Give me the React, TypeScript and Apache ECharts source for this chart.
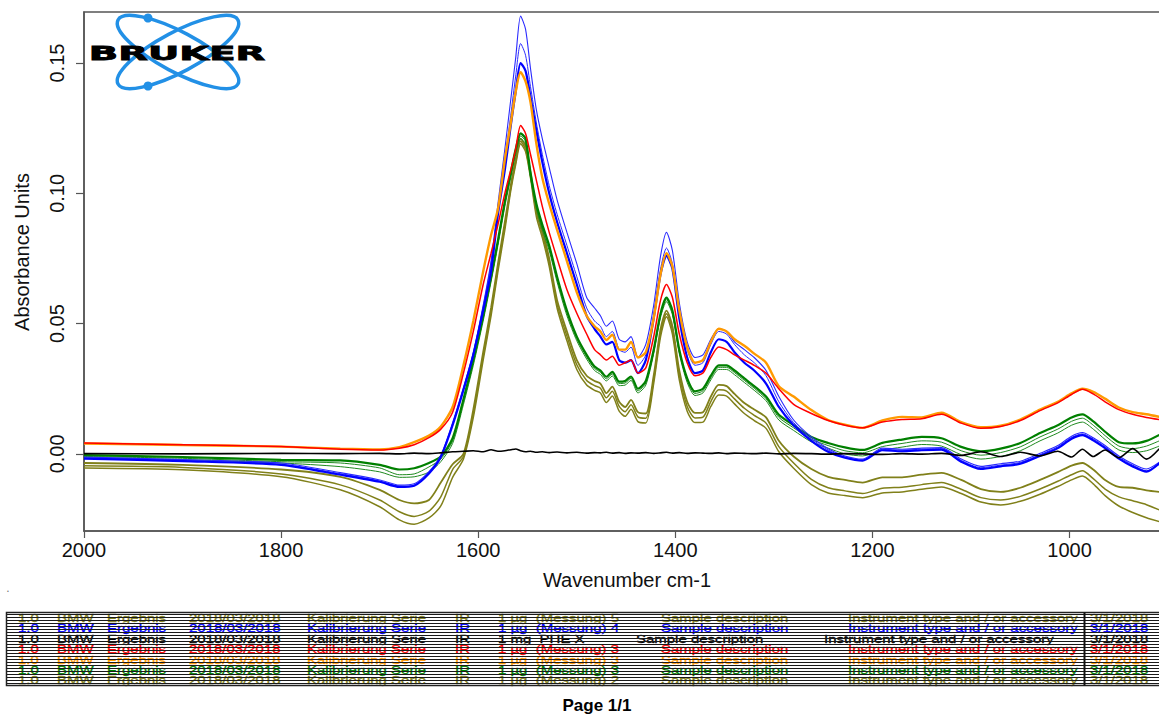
import React, { useEffect, useRef } from "react";
import * as echarts from "echarts";

// Wavenumbers (cm-1) at which the spectra are sampled
const WAVENUMBERS = [
  2000, 1900, 1800, 1740, 1700, 1680, 1665, 1650, 1638, 1626,
  1615, 1605, 1595, 1587, 1580, 1573, 1567, 1562, 1557, 1552,
  1547, 1541, 1535, 1528, 1520, 1510, 1500, 1490, 1482, 1476,
  1470, 1464, 1457, 1451, 1445, 1438, 1430, 1422, 1415, 1409,
  1403, 1396, 1388, 1380, 1372, 1364, 1356, 1348, 1340, 1330,
  1320, 1308, 1295, 1280, 1262, 1245, 1228, 1210, 1190, 1170,
  1150, 1130, 1110, 1090, 1070, 1050, 1030, 1012, 998, 987,
  976, 964, 950, 936, 922, 909,
];

const BLUE_1 = [
  -0.0012, -0.0022, -0.0035, -0.0072, -0.01, -0.012, -0.0115, -0.0068, -0.0005, 0.012,
  0.0255, 0.039, 0.057, 0.074, 0.096, 0.117, 0.136, 0.152, 0.168, 0.163,
  0.148, 0.132, 0.121, 0.11, 0.0975, 0.085, 0.073, 0.06, 0.056, 0.053,
  0.049, 0.051, 0.044, 0.043, 0.045, 0.037, 0.042, 0.057, 0.076, 0.085,
  0.078, 0.058, 0.043, 0.037, 0.038, 0.044, 0.048, 0.047, 0.043, 0.04,
  0.037, 0.032, 0.022, 0.013, 0.0065, 0.002, -0.0008, -0.002, 0.0022, 0.0018,
  0.0022, 0.0024, -0.002, -0.0048, -0.0038, -0.0028, 0.0002, 0.0032, 0.0068, 0.0082,
  0.0062, 0.0032, -0.0008, -0.0038, -0.0058, -0.0032,
];

const BLUE_2 = [
  -0.0016, -0.0026, -0.004, -0.0076, -0.0104, -0.0124, -0.012, -0.0072, -0.0008, 0.0115,
  0.025, 0.0385, 0.0565, 0.073, 0.0945, 0.113, 0.13, 0.145, 0.1575, 0.153,
  0.141, 0.127, 0.115, 0.103, 0.092, 0.08, 0.068, 0.056, 0.051, 0.049,
  0.045, 0.047, 0.04, 0.039, 0.041, 0.034, 0.038, 0.053, 0.071, 0.079,
  0.073, 0.054, 0.04, 0.034, 0.035, 0.042, 0.047, 0.046, 0.042, 0.038,
  0.035, 0.03, 0.02, 0.012, 0.0058, 0.0015, -0.0012, -0.0024, 0.0018, 0.0014,
  0.0018, 0.002, -0.0025, -0.0053, -0.0043, -0.0033, -0.0003, 0.0027, 0.0063, 0.0077,
  0.0057, 0.0027, -0.0013, -0.0043, -0.0065, -0.004,
];

const BLUE_3 = [
  -0.0018, -0.0028, -0.0042, -0.008, -0.0107, -0.0127, -0.0122, -0.0075, -0.0012, 0.011,
  0.0245, 0.038, 0.055, 0.07, 0.092, 0.109, 0.126, 0.139, 0.15, 0.147,
  0.137, 0.124, 0.112, 0.1, 0.089, 0.077, 0.065, 0.053, 0.048, 0.045,
  0.042, 0.043, 0.036, 0.035, 0.036, 0.031, 0.036, 0.052, 0.069, 0.076,
  0.071, 0.052, 0.037, 0.031, 0.032, 0.039, 0.044, 0.043, 0.039, 0.035,
  0.032, 0.027, 0.018, 0.011, 0.005, 0.0008, -0.0015, -0.0026, 0.0014, 0.001,
  0.0014, 0.0016, -0.003, -0.0058, -0.0048, -0.0038, -0.0008, 0.0022, 0.0058, 0.0072,
  0.0052, 0.0022, -0.0018, -0.0048, -0.0068, -0.0036,
];

const ORANGE_1 = [
  0.004, 0.0034, 0.0028, 0.002, 0.0017, 0.0026, 0.0045, 0.007, 0.0105, 0.018,
  0.034, 0.051, 0.07, 0.084, 0.094, 0.113, 0.127, 0.139, 0.1465, 0.143,
  0.135, 0.119, 0.106, 0.096, 0.086, 0.074, 0.062, 0.053, 0.049, 0.047,
  0.0437, 0.0457, 0.04, 0.04, 0.043, 0.037, 0.039, 0.052, 0.069, 0.077,
  0.072, 0.055, 0.041, 0.035, 0.036, 0.043, 0.048, 0.047, 0.044, 0.0415,
  0.0385, 0.035, 0.026, 0.022, 0.0168, 0.013, 0.0112, 0.01, 0.0128, 0.0142,
  0.014, 0.0158, 0.0122, 0.0102, 0.0108, 0.0132, 0.017, 0.02, 0.0232, 0.025,
  0.0238, 0.0212, 0.0178, 0.016, 0.0152, 0.0142,
];

const RED_1 = [
  0.0042, 0.0035, 0.0028, 0.0018, 0.0015, 0.0022, 0.0035, 0.0062, 0.0095, 0.016,
  0.031, 0.047, 0.065, 0.077, 0.088, 0.1, 0.109, 0.117, 0.126, 0.123,
  0.115, 0.105, 0.095, 0.085, 0.075, 0.063, 0.054, 0.046, 0.04, 0.038,
  0.036, 0.0375, 0.034, 0.035, 0.036, 0.031, 0.033, 0.045, 0.059, 0.065,
  0.06, 0.046, 0.035, 0.03, 0.031, 0.037, 0.041, 0.04, 0.038, 0.036,
  0.034, 0.031, 0.025, 0.019, 0.0155, 0.0128, 0.011, 0.01, 0.0122, 0.0132,
  0.0135, 0.0152, 0.0118, 0.0098, 0.0105, 0.0128, 0.0166, 0.0196, 0.0228, 0.0248,
  0.023, 0.02, 0.017, 0.0152, 0.014, 0.0132,
];

const GREEN_1 = [
  -0.0005, -0.0012, -0.0023, -0.0025, -0.0042, -0.006, -0.0055, -0.0035, -0.001, 0.006,
  0.021, 0.036, 0.053, 0.068, 0.082, 0.097, 0.108, 0.117, 0.123, 0.121,
  0.108, 0.096, 0.088, 0.08, 0.068, 0.055, 0.045, 0.038, 0.0335, 0.032,
  0.0296, 0.0315, 0.0277, 0.028, 0.0297, 0.025, 0.028, 0.04, 0.054, 0.06,
  0.055, 0.04, 0.029, 0.024, 0.025, 0.03, 0.034, 0.034, 0.032, 0.029,
  0.026, 0.022, 0.015, 0.011, 0.0065, 0.0042, 0.0025, 0.0015, 0.0042, 0.0055,
  0.0065, 0.006, 0.0027, 0.001, 0.002, 0.0042, 0.008, 0.011, 0.014, 0.0152,
  0.0125, 0.0085, 0.0045, 0.004, 0.005, 0.0073,
];

const GREEN_2 = [
  -0.001, -0.0017, -0.003, -0.0035, -0.0054, -0.008, -0.0077, -0.005, -0.002, 0.005,
  0.02, 0.035, 0.052, 0.067, 0.081, 0.096, 0.107, 0.116, 0.122, 0.12,
  0.107, 0.095, 0.087, 0.079, 0.067, 0.054, 0.0442, 0.0372, 0.0328, 0.0313,
  0.0288, 0.0307, 0.027, 0.0272, 0.029, 0.0242, 0.0272, 0.0392, 0.0532, 0.0592,
  0.0542, 0.0392, 0.0282, 0.0232, 0.0242, 0.0292, 0.0332, 0.0332, 0.0312, 0.0282,
  0.0252, 0.0212, 0.014, 0.01, 0.0056, 0.0032, 0.0012, 0.0004, 0.0028, 0.004,
  0.005, 0.0045, 0.0012, -0.0005, 0.0005, 0.0027, 0.0065, 0.0095, 0.0125, 0.0137,
  0.011, 0.007, 0.003, 0.002, 0.003, 0.005,
];

const GREEN_3 = [
  -0.0015, -0.0022, -0.0035, -0.0049, -0.0069, -0.009, -0.0088, -0.007, -0.003, 0.004,
  0.019, 0.034, 0.051, 0.066, 0.08, 0.095, 0.106, 0.115, 0.121, 0.119,
  0.106, 0.094, 0.086, 0.078, 0.066, 0.053, 0.0434, 0.0364, 0.032, 0.0305,
  0.028, 0.0299, 0.0262, 0.0264, 0.0282, 0.0234, 0.0264, 0.0384, 0.0524, 0.0584,
  0.0534, 0.0384, 0.0274, 0.0224, 0.0234, 0.0284, 0.0324, 0.0324, 0.0304, 0.0274,
  0.0244, 0.0204, 0.013, 0.009, 0.0046, 0.0022, 0.0, -0.0008, 0.0014, 0.0026,
  0.0036, 0.003, -0.0003, -0.002, -0.001, 0.0012, 0.005, 0.008, 0.011, 0.0122,
  0.0095, 0.0055, 0.0015, 0.0005, 0.0012, 0.003,
];

const OLIVE_1 = [
  -0.0035, -0.0042, -0.006, -0.0088, -0.0138, -0.0177, -0.019, -0.0177, -0.011, -0.004,
  0.0, 0.017, 0.039, 0.056, 0.073, 0.089, 0.103, 0.113, 0.121, 0.118,
  0.108, 0.094, 0.086, 0.075, 0.059, 0.047, 0.036, 0.03, 0.028, 0.027,
  0.0233, 0.0258, 0.02, 0.018, 0.0207, 0.016, 0.0155, 0.03, 0.048, 0.055,
  0.049, 0.032, 0.02, 0.0157, 0.016, 0.022, 0.0265, 0.026, 0.023, 0.0195,
  0.017, 0.014, 0.005, -0.001, -0.0058, -0.0088, -0.01, -0.011, -0.009, -0.009,
  -0.008, -0.0073, -0.01, -0.0135, -0.0146, -0.013, -0.01, -0.007, -0.0045, -0.0035,
  -0.006, -0.01, -0.0127, -0.013, -0.014, -0.0146,
];

const OLIVE_2 = [
  -0.0046, -0.0052, -0.0077, -0.0119, -0.0177, -0.0222, -0.024, -0.022, -0.0165, -0.006,
  -0.001, 0.0155, 0.0375, 0.0545, 0.0715, 0.0875, 0.102, 0.112, 0.12, 0.117,
  0.107, 0.0925, 0.0845, 0.0735, 0.0575, 0.0452, 0.0342, 0.0282, 0.0262, 0.0252,
  0.0215, 0.024, 0.0182, 0.0162, 0.0189, 0.0142, 0.0137, 0.0285, 0.0465, 0.0538,
  0.0475, 0.0302, 0.0182, 0.0138, 0.0141, 0.0201, 0.0246, 0.0241, 0.0211, 0.0175,
  0.0148, 0.0118, 0.0028, -0.0035, -0.0098, -0.013, -0.0142, -0.0152, -0.0132, -0.0128,
  -0.0118, -0.011, -0.0136, -0.0168, -0.0177, -0.0163, -0.0135, -0.0105, -0.008, -0.0065,
  -0.0095, -0.0135, -0.0165, -0.018, -0.0195, -0.0215,
];

const OLIVE_3 = [
  -0.0054, -0.0061, -0.0088, -0.0138, -0.0203, -0.0253, -0.027, -0.0246, -0.02, -0.009,
  -0.002, 0.014, 0.036, 0.053, 0.07, 0.086, 0.101, 0.111, 0.119, 0.116,
  0.106, 0.091, 0.083, 0.072, 0.056, 0.0434, 0.0324, 0.0264, 0.0244, 0.0234,
  0.0197, 0.0222, 0.0164, 0.0144, 0.0171, 0.0124, 0.0119, 0.027, 0.045, 0.0526,
  0.046, 0.0284, 0.0164, 0.012, 0.0122, 0.0182, 0.0226, 0.0222, 0.0192, 0.0155,
  0.0128, 0.0098, 0.0008, -0.0055, -0.0118, -0.015, -0.016, -0.0168, -0.015, -0.0146,
  -0.0136, -0.0127, -0.0152, -0.0185, -0.0196, -0.0182, -0.0155, -0.0125, -0.01, -0.0085,
  -0.0115, -0.016, -0.02, -0.0225, -0.0245, -0.026,
];

const BLACK_1 = [
  0.0001, 0.0, 0.0002, 0.0001, 0.0002, 0.0, 0.0003, 0.0001, 0.0004, 0.0008,
  0.001, 0.0012, 0.0008, 0.0016, 0.001, 0.0012, 0.0016, 0.0019, 0.0012, 0.0008,
  0.001, 0.0006, 0.0008, 0.0005, 0.0007, 0.0004, 0.0006, 0.0003, 0.0005, 0.0004,
  0.0006, 0.0003, 0.0005, 0.0002, 0.0004, 0.0003, 0.0005, 0.0002, 0.0004, 0.0006,
  0.0003, 0.0005, 0.0002, 0.0004, 0.0003, 0.0002, 0.0004, 0.0001, 0.0003, 0.0002,
  0.0001, 0.0003, 0.0, 0.0002, 0.0001, -0.0001, 0.0001, 0.0, -0.0002, 0.0001,
  -0.0001, 0.0002, -0.0006, 0.0008, -0.001, 0.0006, -0.0008, 0.001, -0.0012, 0.0018,
  -0.001, 0.0015, -0.0015, 0.002, -0.002, 0.002,
];

const Y_TICKS = [0, 0.05, 0.1, 0.15];
const X_TICKS = [1000, 1200, 1400, 1600, 1800, 2000];
const X_MIN = 800;
const X_MAX = 2000;
const X_STEP = 200;
const Y_MIN = -0.0296;
const Y_MAX = 0.1696;

const TITLE_X = "Wavenumber cm-1";
const TITLE_Y = "Absorbance Units";
const PAGE_TEXT = "Page 1/1";
const LOGO_TEXT = "BRUKER";

// Sample table below the plot (text content per row)
const TABLE_ROWS = [
  ["1.0", "BMW", "Ergebnis", "2018/03/2018", "Kalibrierung Serie", "IR", "1 µg  (Messung) 5", "Sample description", "Instrument type and / or accessory", "3/1/2018"],
  ["1.0", "BMW", "Ergebnis", "2018/03/2018", "Kalibrierung Serie", "IR", "1 µg  (Messung) 4", "Sample description", "Instrument type and / or accessory", "3/1/2018"],
  ["1.0", "BMW", "Ergebnis", "2018/03/2018", "Kalibrierung Serie", "IR", "1 mg  PHE X", "Sample description", "Instrument type and / or accessory", "3/1/2018"],
  ["1.0", "BMW", "Ergebnis", "2018/03/2018", "Kalibrierung Serie", "IR", "1 µg  (Messung) 3", "Sample description", "Instrument type and / or accessory", "3/1/2018"],
  ["1.0", "BMW", "Ergebnis", "2018/03/2018", "Kalibrierung Serie", "IR", "1 µg  (Messung) 3", "Sample description", "Instrument type and / or accessory", "3/1/2018"],
  ["1.0", "BMW", "Ergebnis", "2018/03/2018", "Kalibrierung Serie", "IR", "1 µg  (Messung) 3", "Sample description", "Instrument type and / or accessory", "3/1/2018"],
  ["1.0", "BMW", "Ergebnis", "2018/03/2018", "Kalibrierung Serie", "IR", "1 µg  (Messung) 2", "Sample description", "Instrument type and / or accessory", "3/1/2018"],
];

const SERIES_NAMES = [
  "Olive 3", "Olive 2", "Olive 1", "Green 3", "Green 2", "Green 1",
  "Blue 2", "Blue 1", "Blue 3", "Orange", "Red", "Black",
];
const SERIES_DATA = [
  OLIVE_3, OLIVE_2, OLIVE_1, GREEN_3, GREEN_2, GREEN_1,
  BLUE_2, BLUE_1, BLUE_3, ORANGE_1, RED_1, BLACK_1,
];

// ---------- styles / layout ----------
const SERIES_STYLE = [
  { color: "#80801a", width: 1.5 },
  { color: "#80801a", width: 1.5 },
  { color: "#80801a", width: 1.8 },
  { color: "#1f8a1f", width: 1 },
  { color: "#1f8a1f", width: 1 },
  { color: "#008000", width: 2.2 },
  { color: "#2a2aff", width: 1 },
  { color: "#2a2aff", width: 1.1 },
  { color: "#0000ff", width: 2.2 },
  { color: "#ff9a00", width: 2.4 },
  { color: "#ff0000", width: 1.5 },
  { color: "#000000", width: 1.6 },
];

const TABLE_ROW_COLORS = ["#80801a", "#0000ff", "#000000", "#ff0000", "#ff9a00", "#008000", "#80801a"];
const TABLE_ROW_Y = [618, 628.5, 639, 649.5, 660, 670.5, 680.5];
const TABLE_COL_X = [18, 57, 107, 189, 307, 455, 498, 661, 848, 1090];
const TABLE_COL_X_ALT = [18, 57, 107, 189, 307, 455, 498, 636, 824, 1090];

const FONT = '"Liberation Sans", Arial, sans-serif';
const LOGO_BLUE = "#2290e6";

function buildGraphics() {
  const els: any[] = [];
  // Table texts (under the ruling lines)
  TABLE_ROWS.forEach((row, r) => {
    const xs = r === 2 ? TABLE_COL_X_ALT : TABLE_COL_X;
    row.forEach((txt, c) => {
      els.push({
        type: "text",
        silent: true,
        x: xs[c],
        y: TABLE_ROW_Y[r],
        scaleY: 0.72,
        style: {
          text: txt,
          font: `15px ${FONT}`,
          fill: TABLE_ROW_COLORS[r],
          stroke: TABLE_ROW_COLORS[r],
          lineWidth: 0.4,
          align: "left",
          verticalAlign: "middle",
          lineHeight: 14,
        },
        z: 1,
      });
    });
  });
  // Table ruling lines
  for (let y = 614.5; y <= 684.5; y += 3) {
    els.push({
      type: "line",
      silent: true,
      shape: { x1: 6, y1: y, x2: 1170, y2: y },
      style: { stroke: "#1a1a1a", lineWidth: 1 },
      z: 2,
    });
  }
  els.push({
    type: "rect",
    silent: true,
    shape: { x: 6.5, y: 612.5, width: 1170, height: 73 },
    style: { fill: "none", stroke: "#222", lineWidth: 1.5 },
    z: 3,
  });
  els.push({
    type: "line",
    silent: true,
    shape: { x1: 1084.5, y1: 612.5, x2: 1084.5, y2: 685.5 },
    style: { stroke: "#111", lineWidth: 2 },
    z: 3,
  });

  // Bruker logo
  els.push({
    type: "ellipse",
    silent: true,
    x: 178,
    y: 52,
    rotation: -0.49,
    shape: { cx: 0, cy: 0, rx: 68, ry: 20 },
    style: { fill: "none", stroke: LOGO_BLUE, lineWidth: 3.5 },
    z: 5,
  });
  els.push({
    type: "ellipse",
    silent: true,
    x: 178,
    y: 52,
    rotation: 0.49,
    shape: { cx: 0, cy: 0, rx: 68, ry: 20 },
    style: { fill: "none", stroke: LOGO_BLUE, lineWidth: 3.5 },
    z: 5,
  });
  els.push({ type: "circle", silent: true, shape: { cx: 148, cy: 18, r: 4.5 }, style: { fill: LOGO_BLUE }, z: 5 });
  els.push({ type: "circle", silent: true, shape: { cx: 148, cy: 86, r: 4.5 }, style: { fill: LOGO_BLUE }, z: 5 });
  els.push({
    type: "text",
    silent: true,
    x: 177,
    y: 53,
    scaleX: 1.93,
    style: {
      text: LOGO_TEXT,
      font: 'bold 20px "DejaVu Sans", sans-serif',
      fill: "#000",
      stroke: "#000",
      lineWidth: 0.8,
      align: "center",
      verticalAlign: "middle",
    },
    z: 7,
  });

  // Axis titles and page footer
  els.push({
    type: "text",
    silent: true,
    x: 22,
    y: 252,
    rotation: Math.PI / 2,
    style: { text: TITLE_Y, font: `20px ${FONT}`, fill: "#111", align: "center", verticalAlign: "middle" },
  });
  els.push({
    type: "text",
    silent: true,
    x: 627,
    y: 580,
    style: { text: TITLE_X, font: `20px ${FONT}`, fill: "#111", align: "center", verticalAlign: "middle" },
  });
  els.push({
    type: "text",
    silent: true,
    x: 597,
    y: 705,
    style: { text: PAGE_TEXT, font: `bold 17px ${FONT}`, fill: "#000", align: "center", verticalAlign: "middle" },
  });
  els.push({
    type: "text",
    silent: true,
    x: 8,
    y: 588,
    style: { text: ".", font: `12px ${FONT}`, fill: "#777", align: "center", verticalAlign: "middle" },
  });
  return els;
}

function buildOption(): any {
  const series = SERIES_DATA.map((arr, i) => ({
    name: SERIES_NAMES[i],
    type: "line",
    data: WAVENUMBERS.map((w, j) => [w, arr[j]]),
    showSymbol: false,
    smooth: 0.25,
    clip: true,
    lineStyle: { color: SERIES_STYLE[i].color, width: SERIES_STYLE[i].width },
    itemStyle: { color: SERIES_STYLE[i].color },
    z: 2 + i * 0.01,
  }));
  return {
    animation: false,
    backgroundColor: "#ffffff",
    textStyle: { fontFamily: FONT },
    grid: {
      left: 84,
      top: 12,
      width: (X_MAX - X_MIN) * 0.9856,
      height: 519,
      show: true,
      borderColor: "#555",
      borderWidth: 1.5,
      backgroundColor: "transparent",
      containLabel: false,
      outerBoundsMode: "none",
    },
    xAxis: {
      type: "value",
      min: X_MIN,
      max: X_MAX,
      interval: X_STEP,
      inverse: true,
      axisLine: { show: true, onZero: false, lineStyle: { color: "#555", width: 1.5 } },
      axisTick: { show: true, length: 7, customValues: X_TICKS, lineStyle: { color: "#555", width: 1.2 } },
      axisLabel: {
        customValues: X_TICKS,
        fontSize: 20,
        color: "#111",
        margin: 9,
        fontFamily: FONT,
        formatter: (v: number) => String(v),
      },
      splitLine: { show: false },
    },
    yAxis: {
      type: "value",
      min: Y_MIN,
      max: Y_MAX,
      axisLine: { show: true, lineStyle: { color: "#555", width: 1.5 } },
      axisTick: { show: true, length: 8, customValues: Y_TICKS, lineStyle: { color: "#555", width: 1.2 } },
      axisLabel: {
        customValues: Y_TICKS,
        rotate: 90,
        fontSize: 20,
        color: "#111",
        margin: 17,
        fontFamily: FONT,
        formatter: (v: number) => v.toFixed(2),
      },
      splitLine: { show: false },
    },
    series,
    graphic: { elements: buildGraphics() },
  };
}

export default function App() {
  const ref = useRef<HTMLDivElement>(null);
  useEffect(() => {
    if (!ref.current) return;
    const chart = echarts.init(ref.current, null, { renderer: "svg" });
    chart.setOption(buildOption());
    return () => {
      chart.dispose();
    };
  }, []);
  return (
    <div
      ref={ref}
      style={{ position: "absolute", left: 0, top: 0, width: 1159, height: 715, background: "#fff" }}
    />
  );
}
